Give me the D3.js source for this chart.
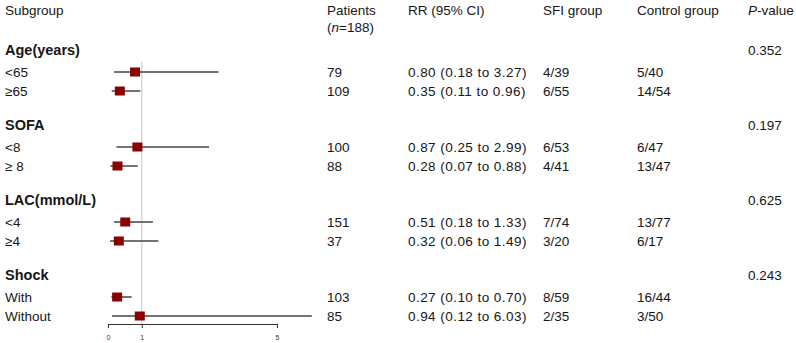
<!DOCTYPE html>
<html>
<head>
<meta charset="utf-8">
<script src="https://cdn.jsdelivr.net/npm/d3@7"></script>
<style>
  body { margin: 0; background: #fff; }
  text { font-family: "Liberation Sans", Arial, sans-serif; fill: #161616; }
</style>
</head>
<body>
<div id="chart"></div>
<script>
// Data
const groups = ["Age(years)", "SOFA", "LAC(mmol/L)", "Shock"];
const pValues = ["0.352", "0.197", "0.625", "0.243"];
const subgroups = ["<65", "≥65", "<8", "≥ 8", "<4", "≥4", "With", "Without"];
const patients = [79, 109, 100, 88, 151, 37, 103, 85];
const rr = [0.80, 0.35, 0.87, 0.28, 0.51, 0.32, 0.27, 0.94];
const lower = [0.18, 0.11, 0.25, 0.07, 0.18, 0.06, 0.10, 0.12];
const upper = [3.27, 0.96, 2.99, 0.88, 1.33, 1.49, 0.70, 6.03];
const sfi = ["4/39", "6/55", "6/53", "4/41", "7/74", "3/20", "8/59", "2/35"];
const control = ["5/40", "14/54", "6/47", "13/47", "13/77", "6/17", "16/44", "3/50"];
const xTicks = [0, 1, 5];

const width = 796, height = 343;

const svg = d3.select("#chart").append("svg")
    .attr("width", width)
    .attr("height", height);

// Column positions
const col = { sub: 5, pat: 327, rr: 408, sfi: 543, ctl: 637, p: 748 };

// Scales
const x = d3.scaleLinear().domain([0, 5]).range([108, 277]);
const headY = d3.scaleLinear().domain([0, 3]).range([50, 275]);
const rowY = i => headY(Math.floor(i / 2)) + 22 + 19 * (i % 2);

// Header
const header = svg.append("g").attr("font-size", 13.5);
header.append("text").attr("x", col.sub).attr("y", 10).attr("dy", "0.35em").text("Subgroup");
header.append("text").attr("x", col.pat).attr("y", 10).attr("dy", "0.35em").text("Patients");
const nT = header.append("text").attr("x", col.pat).attr("y", 27).attr("dy", "0.35em");
nT.append("tspan").text("(");
nT.append("tspan").attr("font-style", "italic").text("n");
nT.append("tspan").text("=188)");
header.append("text").attr("x", col.rr).attr("y", 10).attr("dy", "0.35em").text("RR (95% CI)");
header.append("text").attr("x", col.sfi).attr("y", 10).attr("dy", "0.35em").text("SFI group");
header.append("text").attr("x", col.ctl).attr("y", 10).attr("dy", "0.35em").text("Control group");
const pT = header.append("text").attr("x", col.p).attr("y", 10).attr("dy", "0.35em");
pT.append("tspan").attr("font-style", "italic").text("P");
pT.append("tspan").text("-value");

// Group headings and p-values
svg.append("g").selectAll("text")
    .data(groups)
    .join("text")
    .attr("x", col.sub)
    .attr("y", (d, i) => headY(i))
    .attr("dy", "0.35em")
    .attr("font-size", 14.5)
    .attr("font-weight", "bold")
    .text(d => d);

svg.append("g").selectAll("text")
    .data(pValues)
    .join("text")
    .attr("x", col.p)
    .attr("y", (d, i) => headY(i))
    .attr("dy", "0.35em")
    .attr("font-size", 13.5)
    .text(d => d);

// Row text columns
const rowCols = [
    [col.sub, subgroups.map(d => d), 0],
    [col.pat, patients.map(String), 0],
    [col.rr, rr.map((d, i) => `${d.toFixed(2)} (${lower[i].toFixed(2)} to ${upper[i].toFixed(2)})`), 0.45],
    [col.sfi, sfi, 0],
    [col.ctl, control, 0]
];
rowCols.forEach(([cx, vals, ls]) => {
    svg.append("g").selectAll("text")
        .data(vals)
        .join("text")
        .attr("x", cx)
        .attr("y", (d, i) => rowY(i))
        .attr("dy", "0.35em")
        .attr("font-size", 13.5)
        .attr("letter-spacing", ls)
        .text(d => d);
});

// Reference line at RR = 1
const axisY = 324;
svg.append("line")
    .attr("x1", x(1)).attr("x2", x(1))
    .attr("y1", 62).attr("y2", axisY)
    .attr("stroke", "#cfcfcf")
    .attr("stroke-width", 1.2);

// CI lines
svg.append("g").selectAll("line")
    .data(rr)
    .join("line")
    .attr("x1", (d, i) => x(lower[i]))
    .attr("x2", (d, i) => x(upper[i]))
    .attr("y1", (d, i) => rowY(i))
    .attr("y2", (d, i) => rowY(i))
    .attr("stroke", "#444")
    .attr("stroke-width", 1.5);

// Point estimates
const bw = 10, bh = 9;
svg.append("g").selectAll("rect")
    .data(rr)
    .join("rect")
    .attr("x", d => x(d) - bw / 2)
    .attr("y", (d, i) => rowY(i) - bh / 2)
    .attr("width", bw)
    .attr("height", bh)
    .attr("fill", "#8b0000");

// Axis
const axis = svg.append("g")
    .attr("transform", `translate(0,${axisY})`)
    .call(d3.axisBottom(x).tickValues(xTicks).tickSize(4).tickPadding(7).tickFormat(d3.format("d")));
axis.select(".domain").attr("stroke", "#333");
axis.selectAll(".tick line").attr("stroke", "#333");
axis.selectAll(".tick text")
    .attr("font-size", 7)
    .style("fill", "#333")
    .style("font-family", "'Liberation Sans', Arial, sans-serif");
</script>
</body>
</html>
